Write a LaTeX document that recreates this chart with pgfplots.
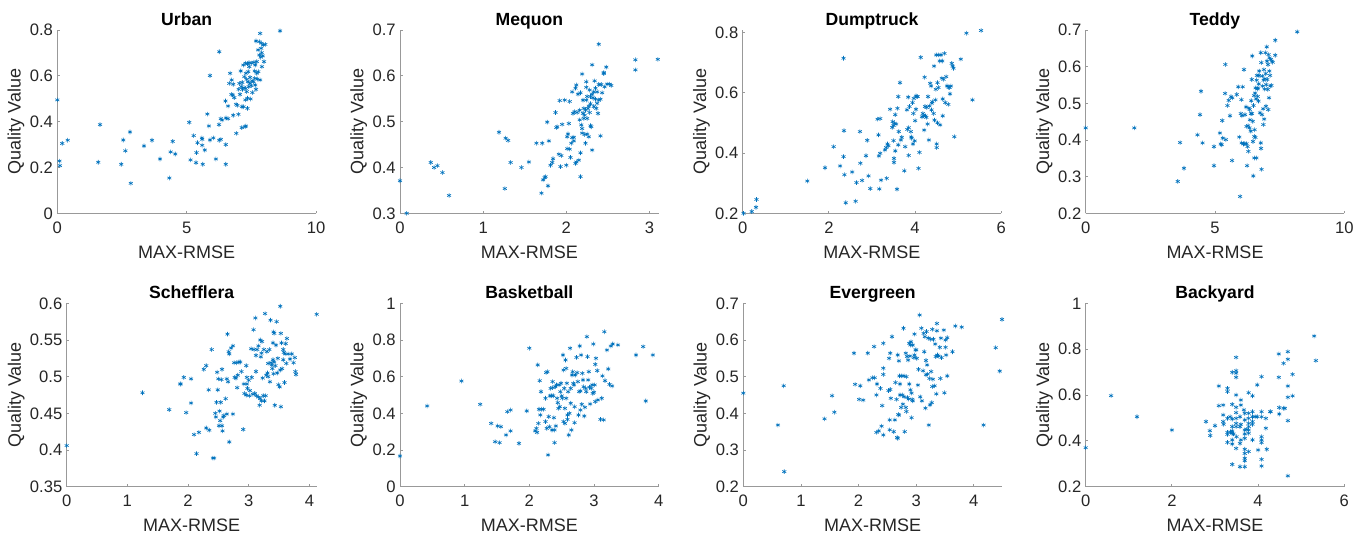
\documentclass[border=0pt]{standalone}
\usepackage{pgfplots}
\pgfplotsset{compat=1.18}
\usepackage{fontspec}
\setmainfont{Liberation Sans}
\definecolor{mblue}{rgb}{0,0.447,0.741}
\definecolor{txtgray}{gray}{0.15}
\definecolor{axgray}{gray}{0.6}
\pgfplotsset{
  pts/.style={only marks, mark=asterisk, mark size=1.15pt, draw=mblue, color=mblue, line width=0.3pt, mark options={draw=mblue, solid}},
  mysub/.style={
    scale only axis, height=91.67pt,
    axis x line*=bottom, axis y line*=left,
    axis line style={draw=axgray, line width=0.4pt, -},
    tick style={draw=axgray, line width=0.4pt},
    major tick length=1.3pt, tick align=inside,
    /pgf/number format/assume math mode=true,
    tick label style={font=\fontsize{8.3}{9}\selectfont, text=txtgray},
    xticklabel style={anchor=base, yshift=-10pt, inner sep=0pt},
    yticklabel style={inner sep=2pt},
    xlabel={MAX-RMSE}, ylabel={Quality Value},
    label style={font=\fontsize{9}{10}\selectfont, text=txtgray},
    xlabel style={at={(axis description cs:0.5,0)}, anchor=base, yshift=-22.5pt, inner sep=0pt},
    ylabel style={inner sep=0.5pt},
    title style={font=\bfseries\fontsize{8.8}{10}\selectfont, at={(axis description cs:0.5,1)}, anchor=base, yshift=-3.6pt, inner sep=0pt},
    clip=false, xmin=0, scaled ticks=false,
  }
}
\begin{document}
\begin{tikzpicture}
\path[use as bounding box] (0,0) rectangle (679.5pt,266.5pt);
% ---------------- Urban
\begin{axis}[mysub, at={(28.67pt,159.83pt)}, anchor=south west, width=129.33pt,
  title={Urban}, xmax=10, ymin=0, ymax=0.8, xtick={0,5,10}, ytick={0,0.2,0.4,0.6,0.8}]
\addplot[pts] coordinates {(0,0.495)(0.08,0.228)(0.1,0.208)(0.19,0.305)(0.4,0.319)(1.58,0.223)(1.65,0.387)(2.47,0.214)(2.55,0.32)(2.63,0.273)(2.81,0.355)(2.84,0.131)(3.35,0.294)(3.66,0.319)(3.97,0.237)(4.33,0.154)(4.38,0.268)(4.46,0.314)(4.56,0.259)(5.10,0.397)(5.15,0.233)(5.27,0.339)(5.36,0.221)(5.38,0.265)(5.42,0.308)(5.59,0.329)(5.6,0.323)(5.6,0.297)(5.62,0.214)(5.7,0.276)(5.8,0.433)(5.86,0.381)(5.9,0.601)(5.9,0.32)(6.03,0.329)(6.13,0.237)(6.25,0.387)(6.26,0.319)(6.32,0.323)(6.26,0.705)(6.32,0.413)(6.37,0.407)(6.5,0.49)(6.51,0.3)(6.51,0.214)(6.52,0.416)(6.6,0.413)(6.6,0.468)(6.65,0.567)(6.68,0.611)(6.73,0.519)(6.74,0.582)(6.78,0.516)(6.8,0.428)(6.8,0.563)(6.84,0.505)(6.91,0.476)(6.92,0.349)(6.96,0.471)(7.0,0.432)(7.01,0.541)(7.04,0.567)(7.06,0.519)(7.09,0.621)(7.11,0.553)(7.13,0.374)(7.14,0.465)(7.15,0.571)(7.16,0.541)(7.19,0.647)(7.2,0.465)(7.22,0.548)(7.23,0.596)(7.26,0.378)(7.27,0.495)(7.28,0.655)(7.28,0.545)(7.29,0.611)(7.29,0.381)(7.32,0.585)(7.32,0.531)(7.35,0.652)(7.35,0.502)(7.35,0.458)(7.37,0.574)(7.38,0.618)(7.4,0.553)(7.41,0.657)(7.42,0.64)(7.45,0.593)(7.45,0.567)(7.47,0.499)(7.5,0.557)(7.51,0.655)(7.53,0.578)(7.54,0.527)(7.58,0.574)(7.6,0.659)(7.63,0.589)(7.65,0.647)(7.65,0.56)(7.68,0.541)(7.71,0.611)(7.73,0.586)(7.68,0.752)(7.77,0.618)(7.81,0.749)(7.76,0.713)(7.81,0.691)(7.84,0.582)(7.84,0.785)(7.86,0.681)(7.89,0.742)(7.9,0.701)(7.91,0.64)(7.94,0.687)(7.96,0.735)(7.99,0.662)(8.04,0.737)(8.61,0.796)(7.63,0.621)(7.71,0.662)(7.88,0.72)};
\end{axis}
% ---------------- Mequon
\begin{axis}[mysub, at={(200pt,159.83pt)}, anchor=south west, width=129.33pt,
  title={Mequon}, xmax=3.11, ymin=0.3, ymax=0.7, xtick={0,1,2,3}, ytick={0.3,0.4,0.5,0.6,0.7}]
\addplot[pts] coordinates {(0,0.371)(0.08,0.3)(0.37,0.411)(0.41,0.4)(0.45,0.404)(0.51,0.389)(0.59,0.339)(1.19,0.477)(1.26,0.354)(1.27,0.464)(1.3,0.459)(1.33,0.411)(1.46,0.4)(1.55,0.412)(1.64,0.453)(1.71,0.453)(1.7,0.344)(1.72,0.373)(1.74,0.378)(1.75,0.38)(1.77,0.499)(1.78,0.36)(1.79,0.458)(1.81,0.405)(1.83,0.411)(1.84,0.419)(1.87,0.52)(1.88,0.487)(1.89,0.489)(1.91,0.429)(1.92,0.546)(1.93,0.402)(1.94,0.426)(1.95,0.494)(1.98,0.547)(2.0,0.405)(2.01,0.441)(2.01,0.467)(2.02,0.473)(2.03,0.496)(2.04,0.44)(2.04,0.544)(2.05,0.422)(2.06,0.453)(2.07,0.465)(2.07,0.565)(2.08,0.518)(2.09,0.458)(2.09,0.466)(2.1,0.522)(2.11,0.573)(2.11,0.409)(2.12,0.412)(2.12,0.58)(2.13,0.52)(2.14,0.56)(2.15,0.416)(2.16,0.504)(2.16,0.525)(2.17,0.38)(2.17,0.563)(2.17,0.432)(2.18,0.493)(2.19,0.604)(2.19,0.475)(2.19,0.485)(2.2,0.547)(2.2,0.518)(2.21,0.507)(2.21,0.529)(2.22,0.472)(2.22,0.514)(2.23,0.453)(2.23,0.525)(2.24,0.575)(2.24,0.547)(2.24,0.587)(2.25,0.473)(2.25,0.507)(2.25,0.555)(2.26,0.529)(2.27,0.467)(2.27,0.534)(2.28,0.569)(2.28,0.52)(2.29,0.555)(2.29,0.491)(2.29,0.539)(2.3,0.489)(2.31,0.56)(2.31,0.438)(2.31,0.624)(2.32,0.552)(2.33,0.565)(2.33,0.533)(2.34,0.589)(2.35,0.573)(2.35,0.549)(2.36,0.529)(2.37,0.565)(2.37,0.54)(2.38,0.518)(2.39,0.581)(2.39,0.547)(2.39,0.669)(2.41,0.549)(2.41,0.469)(2.42,0.581)(2.43,0.563)(2.45,0.607)(2.45,0.605)(2.46,0.576)(2.48,0.619)(2.49,0.582)(2.52,0.582)(2.54,0.579)(2.83,0.613)(2.83,0.635)(3.1,0.636)};
\end{axis}
% ---------------- Dumptruck
\begin{axis}[mysub, at={(371.33pt,159.83pt)}, anchor=south west, width=129.33pt,
  title={Dumptruck}, xmax=6, ymin=0.2, ymax=0.8077, xtick={0,2,4,6}, ytick={0.2,0.4,0.6,0.8}]
\addplot[pts] coordinates {(0.02,0.2)(0.21,0.206)(0.31,0.22)(0.32,0.246)(1.5,0.307)(1.91,0.351)(2.11,0.421)(2.26,0.357)(2.34,0.388)(2.34,0.714)(2.35,0.474)(2.36,0.328)(2.39,0.235)(2.54,0.337)(2.62,0.24)(2.64,0.302)(2.72,0.471)(2.73,0.366)(2.77,0.309)(2.86,0.391)(2.89,0.442)(2.92,0.324)(2.96,0.282)(3.13,0.512)(3.15,0.46)(3.16,0.39)(3.17,0.281)(3.19,0.514)(3.19,0.399)(3.21,0.31)(3.3,0.41)(3.33,0.418)(3.34,0.316)(3.36,0.43)(3.38,0.424)(3.42,0.545)(3.47,0.485)(3.48,0.504)(3.5,0.491)(3.5,0.441)(3.51,0.382)(3.51,0.369)(3.52,0.498)(3.54,0.527)(3.54,0.407)(3.56,0.496)(3.58,0.28)(3.59,0.548)(3.61,0.427)(3.61,0.587)(3.62,0.471)(3.65,0.633)(3.67,0.443)(3.69,0.452)(3.75,0.341)(3.77,0.421)(3.81,0.543)(3.82,0.478)(3.84,0.585)(3.85,0.484)(3.85,0.392)(3.87,0.554)(3.9,0.471)(3.91,0.453)(3.92,0.449)(3.94,0.567)(3.95,0.43)(3.96,0.531)(3.97,0.581)(3.99,0.44)(4.0,0.507)(4.02,0.545)(4.02,0.589)(4.04,0.587)(4.06,0.587)(4.08,0.349)(4.1,0.402)(4.13,0.717)(4.16,0.52)(4.18,0.531)(4.2,0.523)(4.21,0.476)(4.22,0.651)(4.23,0.554)(4.24,0.523)(4.26,0.518)(4.27,0.551)(4.29,0.496)(4.3,0.587)(4.32,0.443)(4.33,0.556)(4.35,0.631)(4.37,0.622)(4.38,0.543)(4.39,0.565)(4.4,0.57)(4.43,0.531)(4.44,0.688)(4.45,0.509)(4.47,0.576)(4.48,0.611)(4.49,0.725)(4.5,0.418)(4.5,0.43)(4.52,0.5)(4.52,0.633)(4.54,0.725)(4.54,0.617)(4.57,0.705)(4.58,0.493)(4.6,0.725)(4.62,0.648)(4.63,0.705)(4.64,0.579)(4.64,0.523)(4.66,0.644)(4.68,0.73)(4.7,0.567)(4.72,0.653)(4.74,0.622)(4.77,0.561)(4.78,0.618)(4.8,0.617)(4.81,0.596)(4.83,0.622)(4.85,0.697)(4.87,0.688)(4.89,0.681)(4.91,0.454)(5.06,0.711)(5.19,0.797)(5.33,0.576)(5.53,0.806)};
\end{axis}
% ---------------- Teddy
\begin{axis}[mysub, at={(542.83pt,159.83pt)}, anchor=south west, width=129.33pt,
  title={Teddy}, xmax=10, ymin=0.2, ymax=0.7, xtick={0,5,10}, ytick={0.2,0.3,0.4,0.5,0.6,0.7}]
\addplot[pts] coordinates {(0,0.433)(1.88,0.433)(3.56,0.287)(3.65,0.393)(3.8,0.323)(4.32,0.414)(4.42,0.469)(4.46,0.533)(4.52,0.392)(4.96,0.382)(4.96,0.33)(5.19,0.419)(5.22,0.389)(5.26,0.387)(5.28,0.453)(5.3,0.405)(5.39,0.527)(5.4,0.606)(5.42,0.401)(5.48,0.494)(5.53,0.508)(5.58,0.466)(5.62,0.518)(5.66,0.344)(5.67,0.515)(5.84,0.524)(5.9,0.545)(5.94,0.408)(5.97,0.246)(6.0,0.472)(6.02,0.51)(6.03,0.392)(6.04,0.466)(6.07,0.545)(6.1,0.389)(6.12,0.592)(6.15,0.39)(6.16,0.469)(6.2,0.49)(6.22,0.39)(6.22,0.437)(6.24,0.33)(6.26,0.382)(6.28,0.439)(6.29,0.369)(6.31,0.487)(6.33,0.433)(6.34,0.483)(6.35,0.455)(6.38,0.424)(6.39,0.472)(6.4,0.507)(6.42,0.565)(6.43,0.472)(6.44,0.629)(6.46,0.451)(6.47,0.396)(6.48,0.302)(6.49,0.494)(6.51,0.521)(6.52,0.41)(6.52,0.351)(6.53,0.428)(6.55,0.528)(6.56,0.407)(6.57,0.542)(6.59,0.512)(6.6,0.351)(6.61,0.563)(6.62,0.576)(6.64,0.539)(6.65,0.519)(6.66,0.542)(6.68,0.506)(6.69,0.553)(6.7,0.576)(6.71,0.588)(6.74,0.474)(6.77,0.638)(6.77,0.392)(6.78,0.377)(6.79,0.611)(6.8,0.32)(6.82,0.469)(6.83,0.574)(6.84,0.547)(6.86,0.485)(6.87,0.442)(6.88,0.563)(6.89,0.592)(6.9,0.457)(6.92,0.539)(6.93,0.567)(6.95,0.638)(6.96,0.581)(6.97,0.492)(6.98,0.551)(7.0,0.654)(7.01,0.615)(7.02,0.565)(7.04,0.538)(7.05,0.606)(7.06,0.483)(7.07,0.633)(7.09,0.515)(7.1,0.588)(7.11,0.624)(7.13,0.576)(7.14,0.547)(7.16,0.62)(7.18,0.549)(7.2,0.615)(7.23,0.612)(7.33,0.672)(7.33,0.631)(8.18,0.695)};
\end{axis}
% ---------------- Schefflera
\begin{axis}[mysub, at={(33.33pt,23.17pt)}, anchor=south west, width=125pt,
  title={Schefflera}, xmax=4.12, ymin=0.35, ymax=0.6, xtick={0,1,2,3,4}, ytick={0.35,0.4,0.45,0.5,0.55,0.6}]
\addplot[pts] coordinates {(0,0.406)(1.25,0.478)(1.69,0.455)(1.87,0.49)(1.88,0.49)(1.93,0.499)(1.97,0.451)(2.05,0.497)(2.05,0.464)(2.1,0.421)(2.14,0.395)(2.18,0.424)(2.26,0.51)(2.3,0.515)(2.3,0.43)(2.34,0.482)(2.35,0.427)(2.39,0.537)(2.41,0.389)(2.43,0.389)(2.45,0.45)(2.46,0.445)(2.47,0.465)(2.48,0.506)(2.49,0.482)(2.5,0.497)(2.51,0.433)(2.52,0.453)(2.53,0.44)(2.54,0.465)(2.55,0.496)(2.56,0.51)(2.56,0.433)(2.57,0.426)(2.58,0.445)(2.59,0.447)(2.62,0.47)(2.64,0.449)(2.64,0.497)(2.65,0.558)(2.66,0.493)(2.67,0.534)(2.68,0.531)(2.68,0.411)(2.71,0.539)(2.74,0.542)(2.74,0.449)(2.76,0.519)(2.77,0.499)(2.79,0.498)(2.8,0.519)(2.81,0.485)(2.82,0.502)(2.84,0.52)(2.86,0.52)(2.88,0.507)(2.91,0.428)(2.92,0.49)(2.93,0.477)(2.96,0.515)(2.96,0.475)(2.97,0.499)(2.97,0.49)(2.98,0.484)(3.0,0.495)(3.01,0.474)(3.02,0.481)(3.04,0.538)(3.05,0.499)(3.07,0.476)(3.08,0.564)(3.09,0.537)(3.1,0.477)(3.11,0.58)(3.12,0.529)(3.12,0.507)(3.13,0.474)(3.14,0.537)(3.16,0.472)(3.16,0.542)(3.18,0.461)(3.19,0.47)(3.19,0.55)(3.2,0.527)(3.21,0.532)(3.21,0.467)(3.22,0.548)(3.23,0.498)(3.24,0.474)(3.25,0.537)(3.26,0.467)(3.27,0.586)(3.28,0.474)(3.29,0.502)(3.3,0.534)(3.31,0.505)(3.32,0.5)(3.32,0.518)(3.34,0.537)(3.35,0.493)(3.36,0.577)(3.37,0.519)(3.38,0.516)(3.39,0.511)(3.4,0.546)(3.4,0.523)(3.41,0.504)(3.41,0.561)(3.42,0.52)(3.42,0.559)(3.43,0.461)(3.44,0.515)(3.45,0.543)(3.46,0.575)(3.47,0.505)(3.48,0.525)(3.49,0.489)(3.51,0.486)(3.52,0.596)(3.52,0.509)(3.53,0.559)(3.53,0.459)(3.54,0.546)(3.55,0.511)(3.57,0.537)(3.57,0.523)(3.58,0.533)(3.59,0.492)(3.6,0.531)(3.61,0.545)(3.62,0.518)(3.63,0.552)(3.65,0.531)(3.68,0.524)(3.71,0.531)(3.74,0.519)(3.76,0.526)(3.77,0.507)(3.78,0.503)(4.12,0.585)};
\end{axis}
% ---------------- Basketball
\begin{axis}[mysub, at={(200pt,23.17pt)}, anchor=south west, width=129.33pt,
  title={Basketball}, xmax=4, ymin=0, ymax=1, xtick={0,1,2,3,4}, ytick={0,0.2,0.4,0.6,0.8,1}]
\addplot[pts] coordinates {(0,0.167)(0.42,0.44)(0.95,0.576)(1.24,0.449)(1.41,0.345)(1.47,0.245)(1.51,0.331)(1.54,0.24)(1.56,0.327)(1.64,0.282)(1.66,0.409)(1.71,0.418)(1.71,0.304)(1.84,0.236)(1.96,0.413)(2.0,0.755)(2.09,0.304)(2.11,0.318)(2.12,0.296)(2.13,0.664)(2.14,0.345)(2.15,0.422)(2.16,0.578)(2.17,0.391)(2.18,0.518)(2.19,0.422)(2.22,0.422)(2.25,0.355)(2.25,0.482)(2.26,0.622)(2.27,0.318)(2.28,0.627)(2.29,0.173)(2.3,0.382)(2.31,0.327)(2.32,0.495)(2.33,0.536)(2.34,0.496)(2.35,0.309)(2.36,0.54)(2.36,0.573)(2.37,0.496)(2.38,0.376)(2.39,0.309)(2.39,0.24)(2.4,0.545)(2.41,0.331)(2.42,0.555)(2.43,0.482)(2.44,0.458)(2.45,0.427)(2.46,0.555)(2.47,0.436)(2.48,0.518)(2.49,0.564)(2.5,0.495)(2.51,0.482)(2.52,0.718)(2.53,0.636)(2.53,0.355)(2.54,0.536)(2.55,0.427)(2.55,0.345)(2.56,0.691)(2.57,0.482)(2.57,0.645)(2.58,0.564)(2.59,0.391)(2.59,0.367)(2.6,0.518)(2.61,0.282)(2.62,0.4)(2.63,0.755)(2.64,0.536)(2.64,0.455)(2.65,0.309)(2.66,0.609)(2.67,0.627)(2.68,0.564)(2.69,0.555)(2.7,0.349)(2.7,0.436)(2.71,0.609)(2.73,0.705)(2.74,0.622)(2.75,0.573)(2.76,0.391)(2.77,0.518)(2.78,0.767)(2.79,0.522)(2.79,0.418)(2.8,0.718)(2.81,0.449)(2.82,0.618)(2.83,0.582)(2.84,0.545)(2.85,0.385)(2.86,0.433)(2.87,0.536)(2.88,0.518)(2.89,0.818)(2.9,0.709)(2.91,0.582)(2.92,0.627)(2.93,0.542)(2.94,0.451)(2.96,0.536)(2.97,0.555)(2.98,0.509)(2.99,0.778)(3.0,0.515)(3.01,0.555)(3.02,0.667)(3.02,0.464)(3.03,0.7)(3.05,0.633)(3.06,0.473)(3.1,0.367)(3.12,0.482)(3.13,0.604)(3.15,0.364)(3.16,0.845)(3.17,0.578)(3.2,0.745)(3.22,0.642)(3.24,0.558)(3.26,0.767)(3.28,0.549)(3.29,0.778)(3.37,0.773)(3.65,0.718)(3.76,0.764)(3.8,0.467)(3.91,0.718)};
\end{axis}
% ---------------- Evergreen
\begin{axis}[mysub, at={(371.67pt,23.17pt)}, anchor=south west, width=129.33pt,
  title={Evergreen}, xmax=4.49, ymin=0.2, ymax=0.7, xtick={0,1,2,3,4}, ytick={0.2,0.3,0.4,0.5,0.6,0.7}]
\addplot[pts] coordinates {(0,0.455)(0.6,0.368)(0.7,0.475)(0.71,0.241)(1.41,0.385)(1.54,0.448)(1.58,0.403)(1.92,0.564)(1.94,0.479)(2.01,0.438)(2.03,0.475)(2.08,0.436)(2.16,0.564)(2.18,0.491)(2.24,0.497)(2.27,0.582)(2.28,0.497)(2.31,0.348)(2.31,0.45)(2.32,0.48)(2.35,0.352)(2.38,0.468)(2.4,0.365)(2.41,0.421)(2.43,0.591)(2.43,0.523)(2.43,0.506)(2.43,0.341)(2.52,0.462)(2.53,0.55)(2.54,0.382)(2.54,0.355)(2.55,0.564)(2.55,0.465)(2.56,0.441)(2.58,0.609)(2.61,0.35)(2.63,0.382)(2.64,0.484)(2.66,0.438)(2.67,0.334)(2.68,0.332)(2.68,0.559)(2.69,0.397)(2.7,0.543)(2.7,0.395)(2.71,0.502)(2.72,0.45)(2.72,0.48)(2.74,0.416)(2.75,0.502)(2.76,0.45)(2.77,0.425)(2.78,0.632)(2.79,0.445)(2.79,0.502)(2.8,0.35)(2.82,0.416)(2.82,0.564)(2.83,0.5)(2.83,0.405)(2.84,0.555)(2.85,0.443)(2.86,0.545)(2.87,0.439)(2.88,0.591)(2.88,0.48)(2.89,0.556)(2.9,0.586)(2.9,0.464)(2.91,0.595)(2.92,0.388)(2.92,0.455)(2.93,0.438)(2.94,0.586)(2.94,0.434)(2.96,0.552)(2.97,0.616)(2.97,0.559)(2.99,0.573)(3.0,0.573)(3.01,0.55)(3.03,0.477)(3.04,0.52)(3.06,0.668)(3.07,0.445)(3.09,0.632)(3.1,0.434)(3.12,0.516)(3.13,0.618)(3.14,0.568)(3.15,0.609)(3.16,0.414)(3.17,0.505)(3.17,0.544)(3.18,0.623)(3.19,0.532)(3.2,0.507)(3.21,0.605)(3.22,0.368)(3.23,0.495)(3.24,0.423)(3.25,0.602)(3.26,0.514)(3.27,0.429)(3.28,0.629)(3.28,0.473)(3.29,0.493)(3.3,0.602)(3.32,0.475)(3.33,0.589)(3.34,0.555)(3.35,0.453)(3.36,0.625)(3.36,0.645)(3.37,0.559)(3.39,0.556)(3.41,0.58)(3.42,0.495)(3.43,0.605)(3.44,0.552)(3.48,0.627)(3.49,0.456)(3.51,0.58)(3.51,0.6)(3.52,0.559)(3.54,0.502)(3.54,0.606)(3.63,0.568)(3.68,0.638)(3.79,0.635)(4.17,0.368)(4.38,0.579)(4.45,0.515)(4.49,0.656)};
\end{axis}
% ---------------- Backyard
\begin{axis}[mysub, at={(542.83pt,23.17pt)}, anchor=south west, width=129.33pt,
  title={Backyard}, xmax=6, ymin=0.2, ymax=1, xtick={0,2,4,6}, ytick={0.2,0.4,0.6,0.8,1}]
\addplot[pts] coordinates {(0,0.37)(0.59,0.597)(1.19,0.505)(2.0,0.447)(2.79,0.484)(2.88,0.444)(2.89,0.423)(3.0,0.466)(3.09,0.639)(3.09,0.553)(3.19,0.556)(3.19,0.513)(3.19,0.484)(3.2,0.472)(3.29,0.629)(3.29,0.615)(3.29,0.498)(3.29,0.437)(3.29,0.428)(3.29,0.393)(3.35,0.505)(3.4,0.699)(3.4,0.559)(3.4,0.495)(3.4,0.462)(3.4,0.443)(3.4,0.433)(3.4,0.404)(3.4,0.386)(3.4,0.297)(3.36,0.439)(3.43,0.43)(3.49,0.764)(3.49,0.706)(3.49,0.695)(3.49,0.677)(3.49,0.6)(3.49,0.546)(3.49,0.523)(3.49,0.498)(3.49,0.476)(3.49,0.462)(3.49,0.367)(3.5,0.418)(3.58,0.505)(3.58,0.462)(3.58,0.389)(3.58,0.287)(3.6,0.578)(3.6,0.556)(3.6,0.472)(3.6,0.404)(3.67,0.535)(3.69,0.52)(3.69,0.491)(3.69,0.447)(3.69,0.43)(3.69,0.411)(3.69,0.363)(3.69,0.345)(3.69,0.324)(3.69,0.313)(3.69,0.287)(3.74,0.45)(3.78,0.61)(3.78,0.52)(3.78,0.498)(3.78,0.476)(3.78,0.462)(3.78,0.447)(3.78,0.433)(3.78,0.353)(3.87,0.596)(3.87,0.527)(3.87,0.505)(3.87,0.484)(3.87,0.472)(3.87,0.404)(3.93,0.505)(3.98,0.644)(3.98,0.505)(4.0,0.36)(4.08,0.68)(4.08,0.527)(4.08,0.505)(4.08,0.418)(4.08,0.404)(4.08,0.392)(4.08,0.319)(4.08,0.29)(4.18,0.498)(4.18,0.455)(4.2,0.363)(4.28,0.527)(4.29,0.527)(4.48,0.779)(4.48,0.677)(4.49,0.545)(4.49,0.517)(4.59,0.738)(4.59,0.542)(4.62,0.542)(4.69,0.789)(4.69,0.756)(4.69,0.639)(4.69,0.59)(4.69,0.488)(4.69,0.247)(4.8,0.69)(4.8,0.596)(5.3,0.857)(5.34,0.75)};
\end{axis}
\end{tikzpicture}
\end{document}
